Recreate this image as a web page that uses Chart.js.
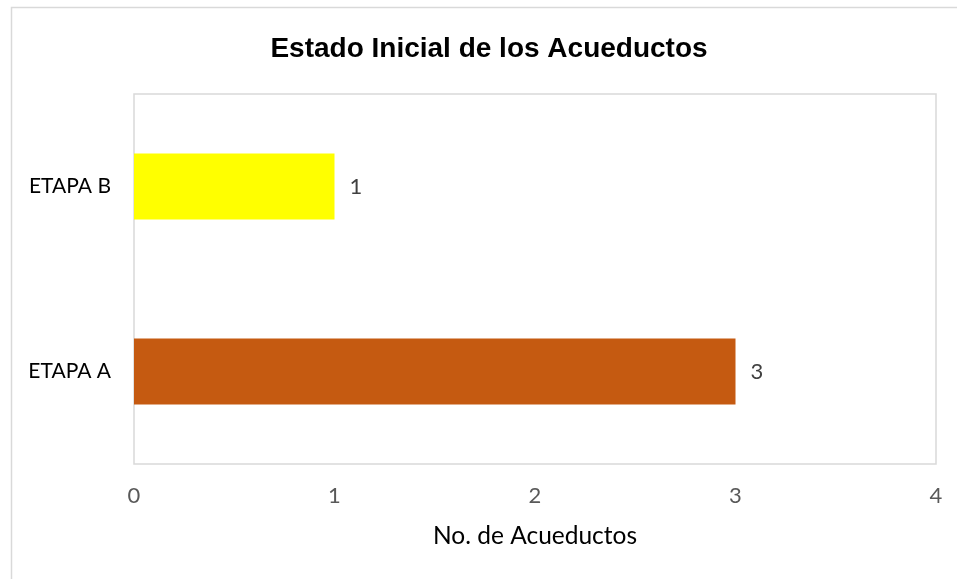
<!DOCTYPE html>
<html>
<head>
<meta charset="utf-8">
<script src="https://cdn.jsdelivr.net/npm/chart.js@4.4.1/dist/chart.umd.min.js"></script>
<style>
  html, body { margin: 0; padding: 0; background: #fff; }
  #wrap { width: 957px; height: 579px; }
</style>
</head>
<body>
<div id="wrap"><canvas id="acueductos"></canvas></div>
<script>
const etapas = ['ETAPA B', 'ETAPA A'];
const acueductos = [1, 3];
const colores = ['#FFFF00', '#C55A11'];
const xTicks = [0, 1, 2, 3, 4];

const bodyFont = 'Lato';

// marco exterior y borde del area de trazado
const marcos = {
  id: 'marcos',
  beforeDraw(chart) {
    const { ctx, chartArea: a } = chart;
    ctx.save();
    ctx.strokeStyle = '#d9d9d9';
    ctx.lineWidth = 1.5;
    ctx.strokeRect(11.5, 7.5, 2000, 2000);
    ctx.strokeRect(a.left, a.top, a.right - a.left, a.bottom - a.top);
    ctx.restore();
  }
};

// etiquetas de valor al final de cada barra
const etiquetas = {
  id: 'etiquetas',
  afterDatasetsDraw(chart) {
    const { ctx } = chart;
    ctx.save();
    ctx.font = '22px ' + bodyFont;
    ctx.fillStyle = '#404040';
    ctx.textAlign = 'left';
    ctx.textBaseline = 'middle';
    chart.getDatasetMeta(0).data.forEach((bar, i) => {
      ctx.fillText(acueductos[i], bar.x + 15, bar.y);
    });
    ctx.restore();
  }
};

new Chart(document.getElementById('acueductos'), {
  type: 'bar',
  data: {
    labels: etapas,
    datasets: [{
      data: acueductos,
      backgroundColor: colores,
      borderWidth: 0,
      categoryPercentage: 1,
      barPercentage: 0.357
    }]
  },
  options: {
    indexAxis: 'y',
    responsive: true,
    maintainAspectRatio: false,
    animation: false,
    layout: { padding: { left: 21, right: 0, top: 0, bottom: 0 } },
    plugins: {
      legend: { display: false },
      tooltip: { enabled: false },
      title: {
        display: true,
        text: 'Estado Inicial de los Acueductos',
        color: '#000',
        font: { family: 'Liberation Sans', size: 28, weight: 'bold' },
        padding: { top: 32, bottom: 28.4 }
      }
    },
    scales: {
      x: {
        min: 0,
        max: 4,
        afterBuildTicks(scale) { scale.ticks = xTicks.map(v => ({ value: v })); },
        afterFit(scale) { scale.height = 115; scale.paddingRight = 21; },
        grid: { display: false, drawTicks: false },
        border: { display: false },
        ticks: { color: '#595959', font: { family: bodyFont, size: 22 }, padding: 19 },
        title: {
          display: true,
          text: 'No. de Acueductos',
          color: '#000',
          font: { family: bodyFont, size: 24.5 },
          padding: { top: 0, bottom: 28 }
        }
      },
      y: {
        afterFit(scale) { scale.width = 113; },
        grid: { display: false, drawTicks: false },
        border: { display: false },
        ticks: { color: '#000', font: { family: bodyFont, size: 21 }, padding: 23 }
      }
    }
  },
  plugins: [marcos, etiquetas]
});
</script>
</body>
</html>
